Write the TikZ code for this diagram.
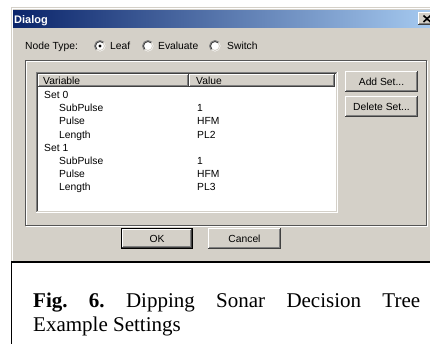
\documentclass[tikz,border=0pt]{standalone}
\usepackage{fontspec}
\setmainfont{Liberation Serif}
\newfontfamily\uifont{Liberation Sans}
\definecolor{face}{HTML}{D4D0C8}
\definecolor{shd}{HTML}{808080}
\definecolor{dks}{HTML}{404040}
\definecolor{grp}{HTML}{555555}
\definecolor{tbl}{HTML}{0A246A}
\definecolor{tbr}{HTML}{A6CAF0}
\tikzset{
  ui/.style={inner sep=0pt, font=\uifont\fontsize{10.3}{12}\selectfont, text=black},
  lt/.style={ui, anchor=base west},
  px/.style={line width=1pt},
  capt/.style={inner sep=0pt, anchor=base west, font=\fontsize{21}{24}\selectfont\frenchspacing},
}
\newcommand\raisedbox[4]{%
  \fill[face] (#1,#2) rectangle (#3,#4);
  \draw[px,white] (#1+0.5,#4-1) -- (#1+0.5,#2+0.5) -- (#3-1,#2+0.5);
  \draw[px,dks] (#1,#4-0.5) -- (#3-0.5,#4-0.5) -- (#3-0.5,#2);
  \draw[px,shd] (#1+1,#4-1.5) -- (#3-1.5,#4-1.5) -- (#3-1.5,#2+1);
}
\newcommand\radiobtn[2]{%
  \fill[white] (#1,#2) circle[radius=5.5];
  \draw[line width=0.9pt,shd] (#1,#2) ++(135:5.5) arc[start angle=135,end angle=315,radius=5.5];
  \draw[line width=0.9pt,dks] (#1,#2) ++(135:4.5) arc[start angle=135,end angle=315,radius=4.5];
  \draw[line width=0.9pt,face] (#1,#2) ++(-45:4.5) arc[start angle=-45,end angle=135,radius=4.5];
}
\begin{document}
\begin{tikzpicture}[x=1pt,y=-1pt]
\useasboundingbox (0,0) rectangle (430,343);
\clip (0,0) rectangle (430,343);
\fill[white] (0,0) rectangle (430,343);
% dialog frame
\fill[face] (11,7) rectangle (432,261);
\draw[px,white] (12.5,261) -- (12.5,8.5) -- (432,8.5);
% title bar
\shade[left color=tbl,right color=tbr] (13,10) rectangle (432,27);
\node[inner sep=0pt, anchor=base west, text=white, font=\uifont\bfseries\fontsize{11}{13}\selectfont] (title) at (14,23) {Dialog};
\raisedbox{418}{12}{434}{25}
\draw[line width=1.6pt] (423.5,15.5) -- (430.5,22);
\draw[line width=1.6pt] (423.5,22) -- (430.5,15.5);
% node type
\node[lt] (nodetype) at (25,49) {Node Type:};
\radiobtn{100}{46}
\fill (100,46) circle[radius=1.7];
\node[lt] (leaf) at (110,49) {Leaf};
\radiobtn{148}{46}
\node[lt] (evaluate) at (158,49) {Evaluate};
\radiobtn{215}{46}
\node[lt] (switch) at (227,49) {Switch};
% group box
\draw[px,white] (26.5,61.5) rectangle (427.5,226.5);
\draw[px,grp] (25.5,60.5) rectangle (426.5,225.5);
% list view
\fill[white] (36,72) rectangle (338,213);
\draw[px,shd] (36.5,213) -- (36.5,72.5) -- (338,72.5);
\draw[px,dks] (37.5,212) -- (37.5,73.5) -- (337,73.5);
\draw[px,white] (36,212.5) -- (337.5,212.5) -- (337.5,72);
\draw[px,face] (37,211.5) -- (336.5,211.5) -- (336.5,73);
\raisedbox{38}{74}{189}{87}
\raisedbox{189}{74}{335}{87}
\node[lt] (hvar) at (43,84) {Variable};
\node[lt] (hval) at (196,84) {Value};
\node[lt] (s0) at (44,98.7) {Set 0};
\node[lt] (s0a) at (59,111.8) {SubPulse};
\node[lt] (s0av) at (197,111.8) {1};
\node[lt] (s0b) at (59,124.9) {Pulse};
\node[lt] (s0bv) at (197,124.9) {HFM};
\node[lt] (s0c) at (59,138) {Length};
\node[lt] (s0cv) at (197,138) {PL2};
\node[lt] (s1) at (44,151.1) {Set 1};
\node[lt] (s1a) at (59,164.2) {SubPulse};
\node[lt] (s1av) at (197,164.2) {1};
\node[lt] (s1b) at (59,177.3) {Pulse};
\node[lt] (s1bv) at (197,177.3) {HFM};
\node[lt] (s1c) at (59,190.4) {Length};
\node[lt] (s1cv) at (197,190.4) {PL3};
% side buttons
\raisedbox{345}{71}{418}{92}
\node[ui] (addset) at (381.5,81.5) {Add Set...};
\raisedbox{345}{96}{418}{117}
\node[ui] (delset) at (381.5,106.5) {Delete Set...};
% OK / Cancel
\fill[black] (121,228) rectangle (193,249);
\raisedbox{122}{229}{192}{248}
\node[ui] (ok) at (157,238.5) {OK};
\raisedbox{208}{228}{281}{249}
\node[ui] (cancel) at (244.5,238.5) {Cancel};
% caption frame
\draw[line width=2pt] (11,262) -- (432,262);
\draw[line width=1.4pt] (11.7,261) -- (11.7,344);
\node[capt] (cap1) at (33,307) {\makebox[387pt][s]{\textbf{Fig. 6.} Dipping Sonar Decision Tree}};
\node[capt] (cap2) at (33,331) {Example Settings};
\end{tikzpicture}
\end{document}
